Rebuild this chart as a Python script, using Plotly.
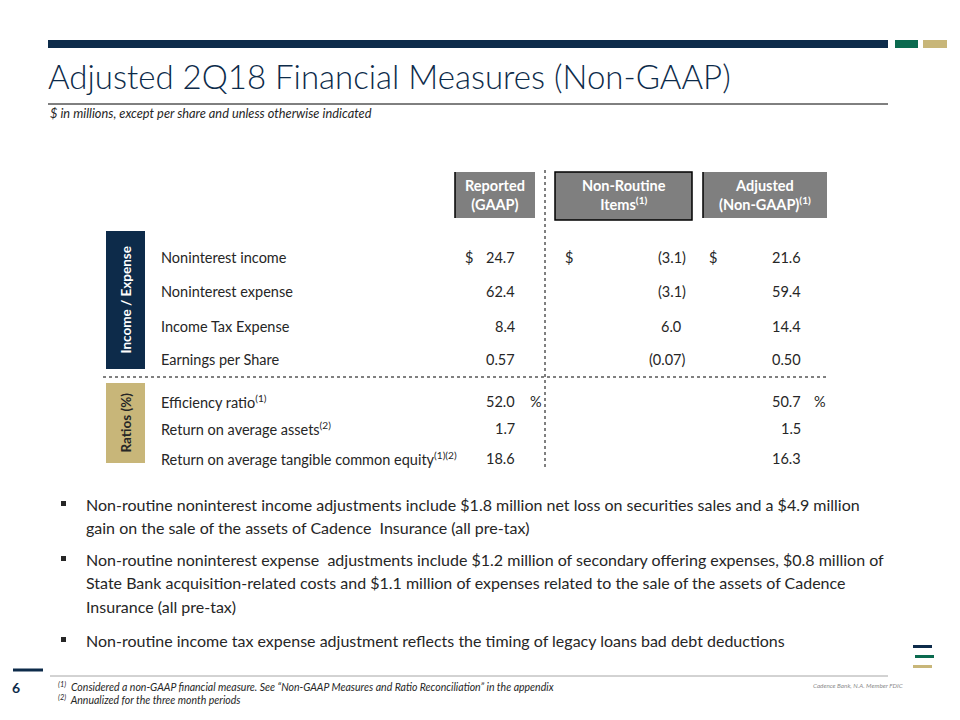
import plotly.graph_objects as go

# ---------------- data ----------------
title = "Adjusted 2Q18 Financial Measures (Non-GAAP)"
subtitle = "$ in millions, except per share and unless otherwise indicated"
col_headers = ["Reported<br>(GAAP)", "Non-Routine<br>Items<sup>(1)</sup>", "Adjusted<br>(Non-GAAP)<sup>(1)</sup>"]
group_labels = ["Income / Expense", "Ratios (%)"]

row_labels = ["Noninterest income", "Noninterest expense", "Income Tax Expense", "Earnings per Share"]
row_decimals = [1, 1, 1, 2]
reported = [24.7, 62.4, 8.4, 0.57]
non_routine = [-3.1, -3.1, 6.0, -0.07]
adjusted = [21.6, 59.4, 14.4, 0.50]

ratio_labels = ["Efficiency ratio<sup>(1)</sup>", "Return on average assets<sup>(2)</sup>",
                "Return on average tangible common equity<sup>(1)(2)</sup>"]
ratio_reported = [52.0, 1.7, 18.6]
ratio_adjusted = [50.7, 1.5, 16.3]

bullets = [
    ["Non-routine noninterest income adjustments include $1.8 million net loss on securities sales and a $4.9 million",
     "gain on the sale of the assets of Cadence  Insurance (all pre-tax)"],
    ["Non-routine noninterest expense  adjustments include $1.2 million of secondary offering expenses, $0.8 million of",
     "State Bank acquisition-related costs and $1.1 million of expenses related to the sale of the assets of Cadence",
     "Insurance (all pre-tax)"],
    ["Non-routine income tax expense adjustment reflects the timing of legacy loans bad debt deductions"],
]
footnotes = ["<sup>(1)</sup>  Considered a non-GAAP financial measure. See \u201cNon-GAAP Measures and Ratio Reconciliation\u201d in the appendix",
             "<sup>(2)</sup>  Annualized for the three month periods"]
page_number = "6"
disclaimer = "Cadence Bank, N.A. Member FDIC"

# ---------------- style ----------------
NAVY = "#0d2b4a"
GREEN = "#0b6a4f"
TAN = "#c8b679"
GRAY_HDR = "#7f7f7f"
TXT = "#262626"
FONT = "Lato"

# page body has an 8px margin: figure is 952x712 with ranges offset so data units = page pixels
OFF = 8
W, H = 952, 712

fig = go.Figure()
fig.add_trace(go.Scatter(x=[OFF, OFF + W], y=[OFF, OFF + H], mode="markers", marker=dict(opacity=0),
                         hoverinfo="skip", showlegend=False))

shapes = []
ann = []

def rect(x0, y0, x1, y1, color, line=None):
    shapes.append(dict(type="rect", xref="x", yref="y", x0=x0, y0=y0, x1=x1, y1=y1,
                       fillcolor=color, line=line or dict(width=0), layer="below"))

def line(x0, y0, x1, y1, color="black", width=1, dash="solid"):
    shapes.append(dict(type="line", xref="x", yref="y", x0=x0, y0=y0, x1=x1, y1=y1,
                       line=dict(color=color, width=width, dash=dash)))

def text(x, y, s, size=14, color=TXT, xanchor="left", yanchor="middle", bold=False, italic=False,
         family=FONT, align="left", angle=0, weight=None):
    if bold:
        s = "<b>" + s + "</b>"
    if italic:
        s = "<i>" + s + "</i>"
    f = dict(size=size, color=color, family=family)
    if weight:
        f["weight"] = weight
    ann.append(dict(x=x, y=y, xref="x", yref="y", text=s, showarrow=False, xanchor=xanchor,
                    yanchor=yanchor, align=align, textangle=angle, font=f))

# top bar
rect(48, 40, 888, 48, NAVY)
rect(895, 40, 918, 48, GREEN)
rect(923, 40, 947, 48, TAN)
# title
text(46, 76, title, size=33, color=NAVY, weight=300)
line(48, 104, 888, 104, "black", 1)
text(48, 113, subtitle, size=12.8, color=TXT, italic=True)

# header boxes
rect(455, 172, 535, 218, GRAY_HDR)
line(455, 172, 455, 218, "black", 1.5)
rect(555, 172, 692, 220, GRAY_HDR, line=dict(color="black", width=1.5))
rect(703, 172, 827, 218, GRAY_HDR)
line(703, 172, 703, 218, "black", 1.5)
hdr_x = [495, 623.5, 765]
for hx, h in zip(hdr_x, col_headers):
    text(hx, 195, h, size=14.5, color="white", bold=True, xanchor="center", align="center")

# dotted lines
line(545, 170, 545, 470, "black", 1, "dot")
line(103, 377, 828, 377, "black", 1, "dot")

# group boxes
rect(106, 231, 145, 369, NAVY)
rect(106, 383, 145, 463, TAN)
text(125.5, 300, group_labels[0], size=13.5, color="white", bold=True, xanchor="center", angle=-90)
text(125.5, 423, group_labels[1], size=13.5, color=TXT, bold=True, xanchor="center", angle=-90)

def fmt(v, d):
    return f"({abs(v):.{d}f})" if v < 0 else f"{v:.{d}f}"

row_y = [257, 291, 326, 359]
for i, lab in enumerate(row_labels):
    y = row_y[i]
    d = row_decimals[i]
    text(159, y, lab, size=14.5)
    text(517, y, fmt(reported[i], d), size=14.5, xanchor="right")
    nr = fmt(non_routine[i], d)
    text(688 if nr.endswith(")") else 683, y, nr, size=14.5, xanchor="right")
    text(803, y, fmt(adjusted[i], d), size=14.5, xanchor="right")
    if i == 0:
        text(463, y, "$", size=14.5)
        text(563, y, "$", size=14.5)
        text(707, y, "$", size=14.5)

ratio_y = [401, 428, 458]
for i, lab in enumerate(ratio_labels):
    y = ratio_y[i]
    text(159, y, lab, size=14.5)
    text(517, y, fmt(ratio_reported[i], 1), size=14.5, xanchor="right")
    text(803, y, fmt(ratio_adjusted[i], 1), size=14.5, xanchor="right")
    if i == 0:
        text(528, y, "%", size=14.5)
        text(812, y, "%", size=14.5)

# bullets
bullet_y = [504, 559, 640]
line_h = 23.5
for by, b in zip(bullet_y, bullets):
    rect(61, by - 3, 66, by + 2, "#262626")
    for j, ln in enumerate(b):
        text(84, by + j * line_h, ln, size=16)

# footer
line(13, 670, 43, 670, NAVY, 3)
line(50, 676, 888, 676, "#a6a6a6", 1)
text(16, 687, page_number, size=14, color=NAVY, bold=True, xanchor="center")
text(56, 686, footnotes[0], size=10.5, italic=True)
text(56, 699, footnotes[1], size=10.5, italic=True)
text(905, 685, disclaimer, size=6.3, color="#8c8c8c", italic=True, xanchor="right")
# logo
rect(913, 645, 932, 648, NAVY)
rect(915, 655, 934, 658, GREEN)
rect(913, 665, 932, 668, TAN)

fig.update_layout(
    width=W, height=H, margin=dict(l=0, r=0, t=0, b=0),
    paper_bgcolor="white", plot_bgcolor="white",
    xaxis=dict(range=[OFF, OFF + W], visible=False, fixedrange=True),
    yaxis=dict(range=[OFF + H, OFF], visible=False, fixedrange=True),
    shapes=shapes, annotations=ann, showlegend=False,
)
fig.write_html("out.html")
